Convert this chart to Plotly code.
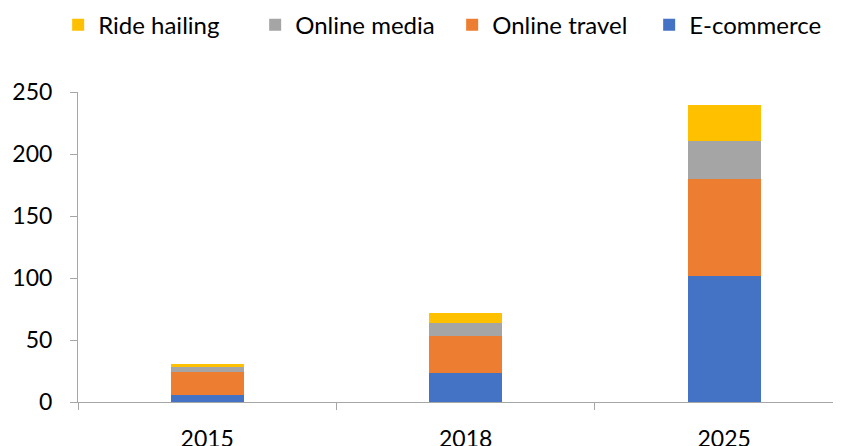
import plotly.graph_objects as go

years = ["2015", "2018", "2025"]
ecommerce = [5.5, 23, 102]
online_travel = [19, 30, 77.5]
online_media = [3.5, 11, 31]
ride_hailing = [3, 8, 29]

series = [
    ("E-commerce", ecommerce, "#4472C4"),
    ("Online travel", online_travel, "#ED7D31"),
    ("Online media", online_media, "#A5A5A5"),
    ("Ride hailing", ride_hailing, "#FFC000"),
]

FONT = "Lato"
fig = go.Figure()
for name, vals, color in series:
    fig.add_trace(go.Bar(x=years, y=vals, name=name, marker=dict(color=color, line=dict(width=0))))

axis_color = "#A6A6A6"
# page body has an 8px margin, so the figure is 833x438 placed at (8, 8)
fig.update_layout(
    width=833, height=438,
    margin=dict(l=70, r=0, t=84, b=44, autoexpand=False),
    barmode="stack",
    bargap=0.717,
    plot_bgcolor="white",
    paper_bgcolor="white",
    font=dict(family=FONT, size=23, color="#000000"),
    legend=dict(
        orientation="h",
        traceorder="reversed",
        x=-0.026, xanchor="left",
        y=1.216, yanchor="middle",
        entrywidth=152,
        entrywidthmode="pixels",
        font=dict(family=FONT, size=24, color="#000000"),
        itemwidth=30,
    ),
    xaxis=dict(
        type="category",
        range=[-0.5, 2.452],
        showline=True, linecolor=axis_color, linewidth=1,
        ticks="outside", ticklen=7, tickcolor=axis_color,
        tickson="boundaries",
        showgrid=False,
        automargin=False,
        ticklabelstandoff=16,
        tickfont=dict(family=FONT, size=23, color="#000000"),
    ),
    yaxis=dict(
        range=[0, 250], dtick=50,
        showline=True, linecolor=axis_color, linewidth=1,
        ticks="outside", ticklen=7, tickcolor=axis_color,
        showgrid=False, zeroline=False,
        automargin=False,
        ticklabelstandoff=13,
        tickfont=dict(family=FONT, size=23, color="#000000"),
    ),
)

fig.write_html("out.html")
